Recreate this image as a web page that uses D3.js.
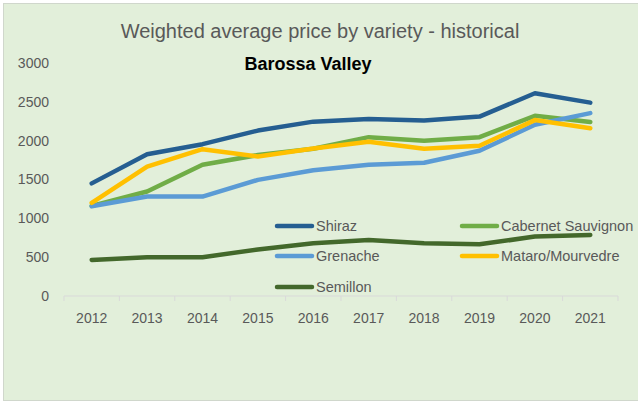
<!DOCTYPE html>
<html>
<head>
<meta charset="utf-8">
<script src="https://cdn.jsdelivr.net/npm/d3@7"></script>
<style>
  body { margin: 0; background: #fff; }
  text { font-family: "Liberation Sans", Arial, sans-serif; }
</style>
</head>
<body>
<div id="chart"></div>
<script>
var years = ["2012", "2013", "2014", "2015", "2016", "2017", "2018", "2019", "2020", "2021"];
var yTicks = [0, 500, 1000, 1500, 2000, 2500, 3000];
var seriesNames = ["Shiraz", "Cabernet Sauvignon", "Grenache", "Mataro/Mourvedre", "Semillon"];
var shiraz = [1450, 1825, 1955, 2130, 2245, 2280, 2260, 2310, 2610, 2490];
var cabernet = [1160, 1345, 1690, 1815, 1895, 2045, 2000, 2045, 2320, 2240];
var grenache = [1155, 1280, 1280, 1495, 1620, 1690, 1715, 1870, 2205, 2355];
var mataro = [1200, 1665, 1890, 1795, 1900, 1985, 1895, 1935, 2265, 2160];
var semillon = [465, 500, 500, 600, 680, 720, 680, 665, 765, 785];

function draw() {
    var W = 638, H = 402;
    var colors = ["#255e91", "#70ad47", "#5b9bd5", "#ffc000", "#43682b"];
    var all = [shiraz, cabernet, grenache, mataro, semillon];

    var svg = d3.select("#chart").append("svg")
        .attr("width", W)
        .attr("height", H);

    // chart area background
    svg.append("rect")
        .attr("x", 3.5).attr("y", 3.5)
        .attr("width", W - 3).attr("height", H - 5)
        .attr("fill", "#e2efda")
        .attr("stroke", "#d0d7cc");

    var x = d3.scaleBand().domain(years).range([64, 618]);
    var y = d3.scaleLinear().domain([0, 3000]).range([296, 63]);

    // title + subtitle
    svg.append("text")
        .attr("x", 320).attr("y", 38)
        .attr("text-anchor", "middle")
        .attr("font-size", "20px")
        .attr("fill", "#595959")
        .text("Weighted average price by variety - historical");

    svg.append("text")
        .attr("x", 308).attr("y", 70)
        .attr("text-anchor", "middle")
        .attr("font-size", "18px")
        .attr("font-weight", "bold")
        .attr("fill", "#000")
        .text("Barossa Valley");

    // y axis labels (no line)
    svg.append("g").selectAll("text")
        .data(yTicks)
        .enter().append("text")
        .attr("x", 49)
        .attr("y", function(d) { return y(d); })
        .attr("dy", ".35em")
        .attr("text-anchor", "end")
        .attr("font-size", "14px")
        .attr("fill", "#595959")
        .text(function(d) { return d; });

    // x axis
    var xAxis = svg.append("g")
        .attr("transform", "translate(0,296)");
    xAxis.append("line")
        .attr("x1", 64).attr("x2", 618)
        .attr("stroke", "#d9d9d9").attr("stroke-width", 1);
    var bounds = years.map(function(d) { return x(d); }).concat([618]);
    xAxis.selectAll(".tk")
        .data(bounds)
        .enter().append("line")
        .attr("class", "tk")
        .attr("x1", function(d) { return d; })
        .attr("x2", function(d) { return d; })
        .attr("y1", 0).attr("y2", 5)
        .attr("stroke", "#d9d9d9");
    xAxis.selectAll("text")
        .data(years)
        .enter().append("text")
        .attr("x", function(d) { return x(d) + x.bandwidth() / 2; })
        .attr("y", 27)
        .attr("text-anchor", "middle")
        .attr("font-size", "14px")
        .attr("fill", "#595959")
        .text(function(d) { return d; });

    // lines
    var line = d3.line()
        .x(function(d, i) { return x(years[i]) + x.bandwidth() / 2; })
        .y(function(d) { return y(d); });

    svg.append("g").selectAll("path")
        .data(all)
        .enter().append("path")
        .attr("d", line)
        .attr("fill", "none")
        .attr("stroke", function(d, i) { return colors[i]; })
        .attr("stroke-width", 4.5)
        .attr("stroke-linecap", "round")
        .attr("stroke-linejoin", "round");

    // legend
    var legPos = [[275, 226], [460, 226], [275, 256], [460, 256], [275, 287]];
    var leg = svg.append("g").selectAll("g")
        .data(seriesNames)
        .enter().append("g")
        .attr("transform", function(d, i) { return "translate(" + legPos[i][0] + "," + legPos[i][1] + ")"; });
    leg.append("line")
        .attr("x1", 2).attr("x2", 37)
        .attr("stroke", function(d, i) { return colors[i]; })
        .attr("stroke-width", 4.5)
        .attr("stroke-linecap", "round");
    leg.append("text")
        .attr("x", 41)
        .attr("dy", ".35em")
        .attr("font-size", "14.5px")
        .attr("fill", "#595959")
        .text(function(d) { return d; });
}

draw();
</script>
</body>
</html>
